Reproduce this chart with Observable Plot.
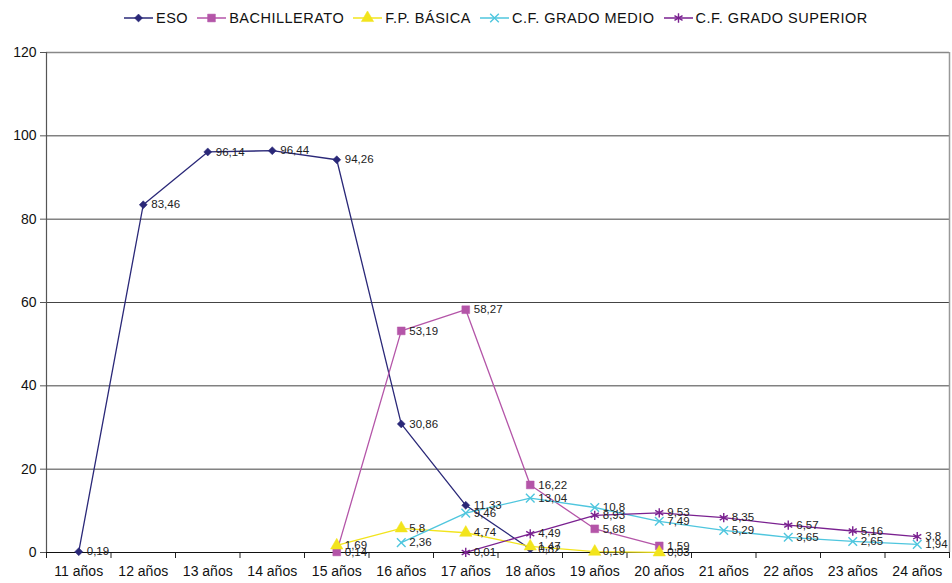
<!DOCTYPE html>
<html>
<head>
<meta charset="utf-8">
<script src="https://cdn.jsdelivr.net/npm/d3@7"></script>
<script src="https://cdn.jsdelivr.net/npm/@observablehq/plot@0.6"></script>
<style>
  html, body { margin: 0; padding: 0; background: #fff; }
  body { width: 952px; height: 583px; overflow: hidden; font-family: "Liberation Sans", Arial, sans-serif; }
  #legend { height: 35px; display: flex; align-items: center; justify-content: flex-start; padding-left: 124px; box-sizing: border-box; font-size: 14.5px; letter-spacing: 0.5px; color: #111; }
  #legend .item { display: flex; align-items: center; margin-right: 9px; }
  #legend svg { margin-right: 3px; }
</style>
</head>
<body>
<div id="legend"></div>
<div id="chart"></div>
<script>
const categories = ["11 años","12 años","13 años","14 años","15 años","16 años","17 años","18 años","19 años","20 años","21 años","22 años","23 años","24 años"];
const seriesNames = ["ESO","BACHILLERATO","F.P. BÁSICA","C.F. GRADO MEDIO","C.F. GRADO SUPERIOR"];
const eso          = [0.19, 83.46, 96.14, 96.44, 94.26, 30.86, 11.33, 0.82, null, null, null, null, null, null];
const bachillerato = [null, null, null, null, 0.14, 53.19, 58.27, 16.22, 5.68, 1.59, null, null, null, null];
const fpBasica     = [null, null, null, null, 1.69, 5.8, 4.74, 1.47, 0.19, 0.03, null, null, null, null];
const gradoMedio   = [null, null, null, null, null, 2.36, 9.46, 13.04, 10.8, 7.49, 5.29, 3.65, 2.65, 1.94];
const gradoSup     = [null, null, null, null, null, null, 0.01, 4.49, 8.93, 9.53, 8.35, 6.57, 5.16, 3.8];
const yTicks = [0, 20, 40, 60, 80, 100, 120];

const colors = ["#2a2878", "#b455a8", "#f2e41c", "#4fc6de", "#7a2190"];
const symbols = ["diamond2", "square", "triangle", "times", "asterisk"];
const filled = [true, true, true, false, false];
const radii = [3.6, 4.4, 4.6, 4.0, 4.4];
const allSeries = [eso, bachillerato, fpBasica, gradoMedio, gradoSup];

const data = [];
allSeries.forEach((vals, s) => {
  vals.forEach((v, i) => {
    if (v !== null) data.push({series: seriesNames[s], idx: i, value: v, label: String(v).replace(".", ",")});
  });
});

const xDomain = [-0.5, categories.length - 0.5];
const idxs = categories.map((_, i) => i);
const boundaries = d3.range(categories.length + 1).map(i => i - 0.5);

const marks = [
  Plot.gridY(yTicks.filter(t => t > 0 && t < 120), {stroke: "#444", strokeOpacity: 1, strokeWidth: 1}),
  Plot.ruleY([yTicks[yTicks.length - 1]], {stroke: "#888", strokeWidth: 1.5}),
  Plot.ruleX([xDomain[1]], {stroke: "#999", strokeWidth: 1.5, y1: 0, y2: yTicks[yTicks.length - 1]}),
  Plot.ruleX([xDomain[0]], {stroke: "#555", strokeWidth: 1.2, y1: 0, y2: yTicks[yTicks.length - 1]}),
  Plot.axisY({ticks: yTicks, tickSize: 6, tickPadding: 4, fontSize: 14, label: null, stroke: "#555", color: "#111"}),
  Plot.axisX({ticks: boundaries, tickSize: 6, tickFormat: () => "", label: null, stroke: "#222"}),
  Plot.axisX({ticks: idxs, tickSize: 0, tickPadding: 14, tickFormat: i => categories[i], fontSize: 14, label: null, color: "#111"}),
  Plot.ruleY([0], {stroke: "#111", strokeWidth: 1.2}),
];

seriesNames.forEach((name, s) => {
  const d = data.filter(r => r.series === name);
  marks.push(Plot.lineY(d, {x: "idx", y: "value", stroke: colors[s], strokeWidth: 1.3}));
});
seriesNames.forEach((name, s) => {
  const d = data.filter(r => r.series === name);
  marks.push(Plot.dot(d, {
    x: "idx", y: "value", symbol: () => symbols[s], r: radii[s],
    fill: filled[s] ? colors[s] : "none",
    stroke: colors[s], strokeWidth: filled[s] ? 0.5 : 1.4
  }));
});
seriesNames.forEach((name, s) => {
  const d = data.filter(r => r.series === name);
  marks.push(Plot.text(d, {x: "idx", y: "value", text: "label", dx: 8, textAnchor: "start", fontSize: 11.5, fill: "#222"}));
});

const chart = Plot.plot({
  width: 952,
  height: 548,
  marginTop: 17,
  marginBottom: 31,
  marginLeft: 46,
  marginRight: 3,
  style: {fontFamily: "'Liberation Sans', Arial, sans-serif", background: "#fff"},
  x: {type: "linear", domain: xDomain, axis: null},
  y: {domain: [0, 120], axis: null},
  symbol: {type: "identity"},
  marks
});
document.getElementById("chart").appendChild(chart);

// Legend
const legend = document.getElementById("legend");
const symMap = {diamond2: d3.symbolDiamond2, square: d3.symbolSquare, triangle: d3.symbolTriangle, times: d3.symbolTimes, asterisk: d3.symbolAsterisk};
seriesNames.forEach((name, s) => {
  const item = document.createElement("div");
  item.className = "item";
  const svg = d3.create("svg").attr("width", 29).attr("height", 14);
  svg.append("line").attr("x1", 0).attr("x2", 29).attr("y1", 7).attr("y2", 7).attr("stroke", colors[s]).attr("stroke-width", 1.5);
  svg.append("path")
    .attr("transform", "translate(14.5,7)")
    .attr("d", d3.symbol(symMap[symbols[s]], Math.PI * radii[s] * radii[s])())
    .attr("fill", filled[s] ? colors[s] : "none")
    .attr("stroke", colors[s]).attr("stroke-width", filled[s] ? 0.5 : 1.4);
  item.appendChild(svg.node());
  const span = document.createElement("span");
  span.textContent = name;
  item.appendChild(span);
  legend.appendChild(item);
});
</script>
</body>
</html>
